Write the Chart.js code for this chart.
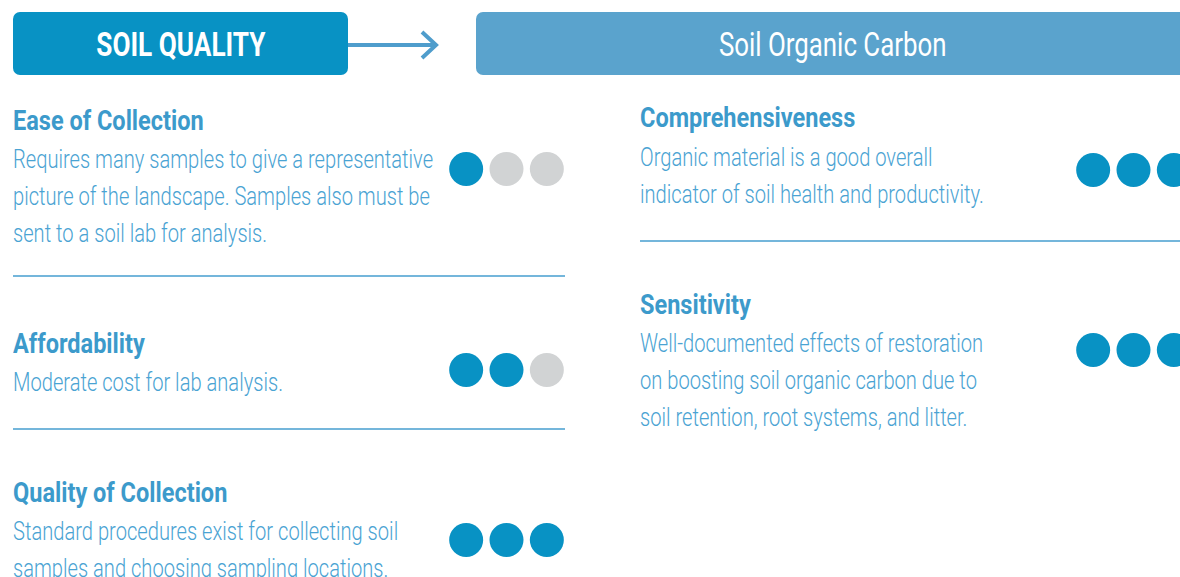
<!DOCTYPE html>
<html>
<head>
<meta charset="utf-8">
<script src="https://cdn.jsdelivr.net/npm/chart.js@4.4.1/dist/chart.umd.min.js"></script>
<style>
  html, body { margin: 0; padding: 0; background: #fff; }
  body { width: 1180px; height: 577px; position: relative; overflow: hidden; font-family: Roboto, "Noto Sans", sans-serif; }
  .box { position: absolute; top: 12px; height: 63px; display: flex; align-items: center; justify-content: center; color: #fff; }
  .box span { display: inline-block; white-space: nowrap; transform-origin: center center; }
  #leftBox { left: 13px; width: 335px; background: #0892c4; border-radius: 7px; }
  #leftBox span { font-weight: 700; font-size: 34px; transform: scaleX(0.77); }
  #rightBox { left: 476px; width: 760px; background: #5aa3cd; border-radius: 7px 0 0 7px; }
  #rightBox span { font-weight: 400; font-size: 34px; transform: scaleX(0.76); position: relative; left: -23px; }
  .ln { position: absolute; white-space: nowrap; transform-origin: left top; }
  .hd { font-weight: 700; font-size: 28px; color: #3c9acb; transform: scaleX(0.84); }
  .tx { font-weight: 300; font-size: 25px; color: #4aa3d3; transform: scaleX(0.805); }
  .rule { position: absolute; height: 2px; background: #74b6db; }
  canvas.dots { position: absolute; }
</style>
</head>
<body>
<div id="leftBox" class="box"><span>SOIL QUALITY</span></div>
<svg style="position:absolute;left:0;top:0" width="480" height="80">
  <line x1="348" y1="45" x2="436" y2="45" stroke="#4f9dcc" stroke-width="4"/>
  <polyline points="422,32 436,45 422,58" fill="none" stroke="#4f9dcc" stroke-width="4"/>
</svg>
<div id="rightBox" class="box"><span>Soil Organic Carbon</span></div>

<script>
// criteria and ratings (number of filled dots out of 3)
var leftTitles = ['Ease of Collection', 'Affordability', 'Quality of Collection'];
var leftScores = [1, 2, 3];
var leftText = [
    ['Requires many samples to give a representative', 'picture of the landscape. Samples also must be', 'sent to a soil lab for analysis.'],
    ['Moderate cost for lab analysis.'],
    ['Standard procedures exist for collecting soil', 'samples and choosing sampling locations.']
];
var rightTitles = ['Comprehensiveness', 'Sensitivity'];
var rightScores = [3, 3];
var rightText = [
    ['Organic material is a good overall', 'indicator of soil health and productivity.'],
    ['Well-documented effects of restoration', 'on boosting soil organic carbon due to', 'soil retention, root systems, and litter.']
];
var dotSlots = [1, 2, 3];

var BLUE = '#0892c4';
var GREY = '#d1d3d4';

// layout: baseline of heading, first body line, dot centre, divider
var leftLayout = [
    { head: 131, body: 168, dot: 168.5, rule: 276 },
    { head: 354, body: 391, dot: 370, rule: 429 },
    { head: 503, body: 540, dot: 540, rule: null }
];
var rightLayout = [
    { head: 128, body: 166, dot: 169.5, rule: 241 },
    { head: 315, body: 352, dot: 350, rule: null }
];
var LINE = 37;

// put a line of text so its baseline sits on y
function addLine(cls, text, x, baseline, size) {
    var d = document.createElement('div');
    d.className = 'ln ' + cls;
    d.textContent = text;
    var lh = Math.round(size * 1.3);
    d.style.lineHeight = lh + 'px';
    d.style.left = x + 'px';
    d.style.top = (baseline - (lh - 1.172 * size) / 2 - 0.928 * size) + 'px';
    document.body.appendChild(d);
}

function addRule(x1, x2, y) {
    var r = document.createElement('div');
    r.className = 'rule';
    r.style.left = x1 + 'px';
    r.style.width = (x2 - x1) + 'px';
    r.style.top = (y - 1) + 'px';
    document.body.appendChild(r);
}

function dotChart(left, centreY, score) {
    var c = document.createElement('canvas');
    c.className = 'dots';
    c.width = 121;
    c.height = 44;
    c.style.left = left + 'px';
    c.style.top = (centreY - 22) + 'px';
    document.body.appendChild(c);

    new Chart(c, {
        type: 'scatter',
        data: {
            datasets: [{
                data: dotSlots.map(function (s) { return { x: s, y: 1 }; }),
                pointRadius: 17,
                pointHoverRadius: 17,
                pointBorderWidth: 0,
                pointBackgroundColor: dotSlots.map(function (s) { return s <= score ? BLUE : GREY; }),
                clip: false
            }]
        },
        options: {
            responsive: false,
            animation: false,
            events: [],
            layout: { padding: 0, autoPadding: false },
            plugins: { legend: { display: false }, tooltip: { enabled: false } },
            scales: {
                x: { display: false, min: 0.5, max: 3.5 },
                y: { display: false, min: 0, max: 2 }
            }
        }
    });
}

function column(titles, texts, scores, layout, x, dotLeft, ruleEnd) {
    titles.forEach(function (t, i) {
        var L = layout[i];
        addLine('hd', t, x, L.head, 28);
        texts[i].forEach(function (line, j) {
            addLine('tx', line, x, L.body + j * LINE, 25);
        });
        dotChart(dotLeft, L.dot, scores[i]);
        if (L.rule) addRule(x, ruleEnd, L.rule);
    });
}

column(leftTitles, leftText, leftScores, leftLayout, 13, 446, 565);
column(rightTitles, rightText, rightScores, rightLayout, 640, 1073, 1180);
</script>
</body>
</html>
